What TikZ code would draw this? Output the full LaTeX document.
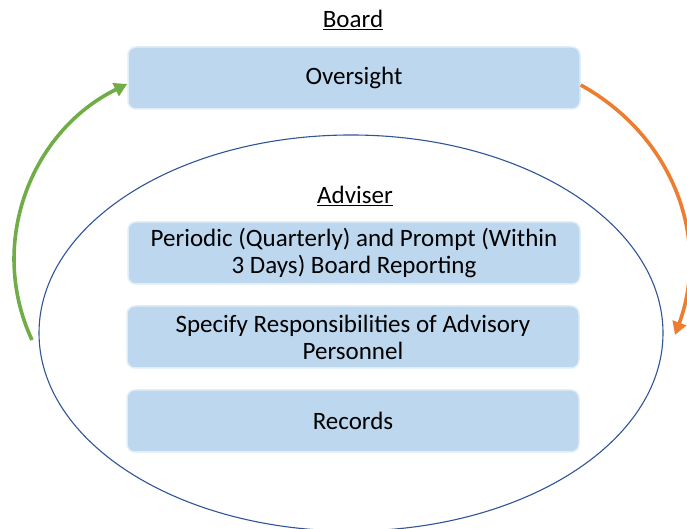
\documentclass[tikz,border=0pt]{standalone}
\usepackage{fontspec}
\setmainfont{Carlito}
\usetikzlibrary{arrows.meta}

\definecolor{boxblue}{HTML}{BDD7EE}
\definecolor{ringblue}{HTML}{2F5597}
\definecolor{upgreen}{HTML}{70AD47}
\definecolor{downorange}{HTML}{ED7D31}

\begin{document}
\begin{tikzpicture}[
    x=1pt, y=1pt,
    duty/.style={draw=white!55!boxblue, line width=1.5pt, fill=boxblue, rounded corners=8pt,
                 minimum width=452pt, minimum height=62pt, inner sep=0pt, align=center,
                 font=\fontsize{25}{27}\selectfont},
    heading/.style={font=\fontsize{25}{27}\selectfont},
    ring/.style={draw=ringblue, line width=1.1pt},
    flow/.style={line width=3.6pt, -{Triangle[width=14pt,length=13pt]}},
]
\useasboundingbox (0,0) rectangle (687,529);

% Adviser ring
\draw[ring] (351,196) ellipse [x radius=312pt, y radius=198pt];

% Board
\node[heading] (board) at (353,509) {\underline{Board}};
\node[duty] (oversight) at (354,451) {Oversight};

% Adviser
\node[heading] (adviser) at (355,333) {\underline{Adviser}};
\node[duty] (reporting) at (354,276) {Periodic (Quarterly) and Prompt (Within\\3 Days) Board Reporting};
\node[duty] (duties) at (353,192) {Specify Responsibilities of Advisory\\Personnel};
\node[duty] (records) at (353,108) {Records};

% Loop arrows
\coordinate (upstart) at (32,189);
\coordinate (downend) at (675,194);
\draw[flow, upgreen] (upstart) to[out=115, in=206] (oversight.west |- 0,445);
\draw[flow, downorange] (oversight.east |- 0,444) to[out=-29, in=70] (downend);

\end{tikzpicture}
\end{document}
